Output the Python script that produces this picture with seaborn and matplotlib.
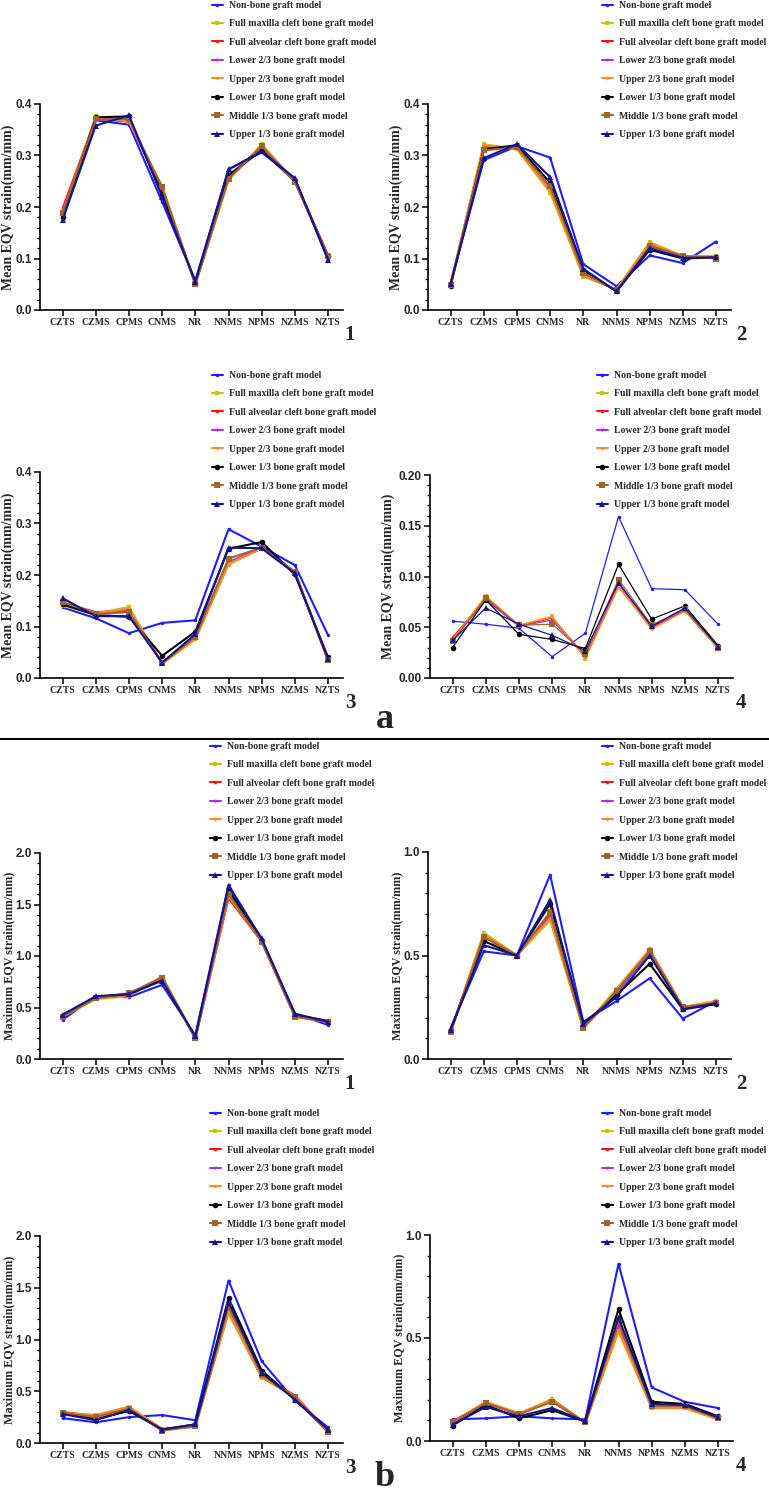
import numpy as np
import pandas as pd
import matplotlib
matplotlib.use("Agg")
import matplotlib.pyplot as plt
import seaborn as sns
from matplotlib.ticker import MultipleLocator
from matplotlib.lines import Line2D

# measurement sites (x axis)
sites = ["CZTS", "CZMS", "CPMS", "CNMS", "NR", "NNMS", "NPMS", "NZMS", "NZTS"]

models = ["Non-bone graft model",
          "Full maxilla cleft bone graft model",
          "Full alveolar cleft bone graft model",
          "Lower 2/3 bone graft model",
          "Upper 2/3 bone graft model",
          "Lower 1/3 bone graft model",
          "Middle 1/3 bone graft model",
          "Upper 1/3 bone graft model"]

colors = ["#1f1ff5", "#c4c400", "#ff1010", "#b02ee0", "#ff8a2a", "#000000", "#a0652c", "#14148c"]
markers = ["o", "s", "^", "v", "D", "o", "s", "^"]
msizes = [2.5, 3, 2.5, 2.5, 2, 4, 4, 4]

# a: mean EQV strain (mm/mm)
mean_1 = {
    models[0]: [0.178, 0.368, 0.360, 0.210, 0.057, 0.273, 0.306, 0.255, 0.097],
    models[1]: [0.185, 0.376, 0.365, 0.240, 0.050, 0.252, 0.322, 0.250, 0.107],
    models[2]: [0.197, 0.372, 0.366, 0.236, 0.051, 0.255, 0.316, 0.252, 0.105],
    models[3]: [0.190, 0.370, 0.367, 0.236, 0.051, 0.256, 0.318, 0.252, 0.105],
    models[4]: [0.188, 0.374, 0.366, 0.240, 0.050, 0.254, 0.319, 0.251, 0.106],
    models[5]: [0.180, 0.374, 0.376, 0.225, 0.053, 0.262, 0.310, 0.250, 0.104],
    models[6]: [0.188, 0.370, 0.371, 0.238, 0.050, 0.255, 0.318, 0.248, 0.105],
    models[7]: [0.175, 0.358, 0.378, 0.220, 0.055, 0.273, 0.308, 0.256, 0.098],
}
mean_2 = {
    models[0]: [0.052, 0.291, 0.318, 0.296, 0.089, 0.046, 0.106, 0.091, 0.133],
    models[1]: [0.050, 0.322, 0.312, 0.228, 0.065, 0.040, 0.132, 0.105, 0.104],
    models[2]: [0.050, 0.318, 0.315, 0.238, 0.070, 0.039, 0.128, 0.103, 0.103],
    models[3]: [0.050, 0.316, 0.314, 0.235, 0.068, 0.039, 0.126, 0.103, 0.103],
    models[4]: [0.050, 0.320, 0.313, 0.232, 0.066, 0.040, 0.130, 0.104, 0.104],
    models[5]: [0.046, 0.312, 0.320, 0.247, 0.077, 0.036, 0.117, 0.100, 0.102],
    models[6]: [0.049, 0.310, 0.316, 0.240, 0.072, 0.038, 0.124, 0.105, 0.100],
    models[7]: [0.051, 0.295, 0.322, 0.258, 0.080, 0.036, 0.120, 0.101, 0.102],
}
mean_3 = {
    models[0]: [0.137, 0.116, 0.087, 0.107, 0.112, 0.289, 0.255, 0.219, 0.083],
    models[1]: [0.140, 0.125, 0.138, 0.027, 0.075, 0.220, 0.252, 0.207, 0.034],
    models[2]: [0.146, 0.128, 0.130, 0.029, 0.077, 0.224, 0.253, 0.206, 0.035],
    models[3]: [0.145, 0.127, 0.132, 0.029, 0.078, 0.225, 0.252, 0.205, 0.035],
    models[4]: [0.144, 0.126, 0.135, 0.028, 0.076, 0.222, 0.251, 0.206, 0.034],
    models[5]: [0.143, 0.122, 0.119, 0.043, 0.090, 0.251, 0.264, 0.201, 0.040],
    models[6]: [0.148, 0.124, 0.128, 0.029, 0.080, 0.232, 0.253, 0.205, 0.035],
    models[7]: [0.155, 0.120, 0.120, 0.030, 0.085, 0.253, 0.252, 0.203, 0.037],
}
mean_4 = {
    models[0]: [0.056, 0.053, 0.049, 0.021, 0.044, 0.159, 0.088, 0.087, 0.053],
    models[1]: [0.038, 0.081, 0.052, 0.061, 0.019, 0.089, 0.049, 0.066, 0.029],
    models[2]: [0.040, 0.078, 0.051, 0.059, 0.022, 0.093, 0.050, 0.067, 0.030],
    models[3]: [0.037, 0.077, 0.051, 0.057, 0.021, 0.092, 0.051, 0.067, 0.030],
    models[4]: [0.038, 0.080, 0.052, 0.060, 0.020, 0.090, 0.048, 0.066, 0.029],
    models[5]: [0.030, 0.077, 0.043, 0.038, 0.029, 0.112, 0.058, 0.071, 0.032],
    models[6]: [0.036, 0.079, 0.052, 0.053, 0.024, 0.097, 0.052, 0.068, 0.030],
    models[7]: [0.037, 0.069, 0.053, 0.042, 0.027, 0.094, 0.051, 0.069, 0.031],
}

# b: maximum EQV strain (mm/mm)
max_1 = {
    models[0]: [0.38, 0.61, 0.60, 0.72, 0.23, 1.69, 1.16, 0.44, 0.33],
    models[1]: [0.41, 0.58, 0.61, 0.80, 0.21, 1.60, 1.15, 0.42, 0.36],
    models[2]: [0.43, 0.59, 0.62, 0.79, 0.20, 1.56, 1.14, 0.42, 0.36],
    models[3]: [0.42, 0.59, 0.63, 0.79, 0.20, 1.58, 1.14, 0.42, 0.36],
    models[4]: [0.42, 0.59, 0.62, 0.80, 0.20, 1.58, 1.14, 0.41, 0.36],
    models[5]: [0.42, 0.60, 0.63, 0.77, 0.21, 1.64, 1.15, 0.43, 0.37],
    models[6]: [0.41, 0.59, 0.64, 0.79, 0.20, 1.60, 1.14, 0.41, 0.36],
    models[7]: [0.43, 0.61, 0.63, 0.76, 0.22, 1.68, 1.17, 0.44, 0.36],
}
max_2 = {
    models[0]: [0.15, 0.52, 0.50, 0.89, 0.18, 0.28, 0.39, 0.195, 0.28],
    models[1]: [0.13, 0.61, 0.50, 0.67, 0.15, 0.34, 0.53, 0.25, 0.28],
    models[2]: [0.13, 0.60, 0.50, 0.70, 0.15, 0.32, 0.52, 0.25, 0.275],
    models[3]: [0.13, 0.59, 0.50, 0.69, 0.15, 0.32, 0.51, 0.25, 0.275],
    models[4]: [0.13, 0.60, 0.50, 0.68, 0.15, 0.33, 0.53, 0.25, 0.28],
    models[5]: [0.14, 0.57, 0.50, 0.75, 0.17, 0.31, 0.46, 0.24, 0.265],
    models[6]: [0.13, 0.59, 0.50, 0.71, 0.15, 0.33, 0.52, 0.25, 0.27],
    models[7]: [0.14, 0.55, 0.50, 0.77, 0.17, 0.30, 0.50, 0.24, 0.27],
}
max_3 = {
    models[0]: [0.24, 0.20, 0.25, 0.27, 0.22, 1.57, 0.79, 0.41, 0.15],
    models[1]: [0.29, 0.27, 0.35, 0.14, 0.16, 1.25, 0.63, 0.44, 0.10],
    models[2]: [0.30, 0.26, 0.34, 0.12, 0.17, 1.29, 0.65, 0.46, 0.11],
    models[3]: [0.29, 0.26, 0.34, 0.13, 0.16, 1.28, 0.64, 0.45, 0.11],
    models[4]: [0.29, 0.27, 0.35, 0.13, 0.16, 1.27, 0.64, 0.45, 0.10],
    models[5]: [0.29, 0.23, 0.31, 0.13, 0.18, 1.40, 0.70, 0.42, 0.12],
    models[6]: [0.29, 0.25, 0.33, 0.12, 0.16, 1.32, 0.66, 0.44, 0.11],
    models[7]: [0.28, 0.22, 0.32, 0.13, 0.18, 1.36, 0.68, 0.42, 0.13],
}
max_4 = {
    models[0]: [0.105, 0.11, 0.12, 0.11, 0.105, 0.86, 0.26, 0.19, 0.16],
    models[1]: [0.09, 0.19, 0.13, 0.205, 0.085, 0.53, 0.16, 0.16, 0.105],
    models[2]: [0.095, 0.185, 0.13, 0.20, 0.09, 0.56, 0.17, 0.165, 0.11],
    models[3]: [0.09, 0.185, 0.13, 0.195, 0.09, 0.55, 0.165, 0.165, 0.11],
    models[4]: [0.09, 0.19, 0.135, 0.20, 0.085, 0.54, 0.16, 0.16, 0.105],
    models[5]: [0.075, 0.175, 0.11, 0.15, 0.095, 0.64, 0.19, 0.18, 0.12],
    models[6]: [0.09, 0.185, 0.13, 0.19, 0.09, 0.58, 0.17, 0.17, 0.11],
    models[7]: [0.08, 0.165, 0.12, 0.16, 0.095, 0.60, 0.18, 0.175, 0.115],
}

sns.set_theme(style="ticks")
plt.rcParams['font.family'] = ['Liberation Serif', 'DejaVu Serif']

W, H = 769, 1495
fig = plt.figure(figsize=(W / 100, H / 100), dpi=100)


def rect(l, t, r, b):
    return [l / W, 1 - b / H, (r - l) / W, (b - t) / H]


def draw_panel(values, box, ymax, ystep, yminor, fmt, ylabel, ylsize, ylpad, leg_xy, num, lw):
    ax = fig.add_axes(rect(*box))
    df = pd.DataFrame([(i, values[m][i], m) for m in models for i in range(len(sites))],
                      columns=["pos", "strain", "model"])
    sns.lineplot(data=df, x="pos", y="strain", hue="model", style="model",
                 hue_order=models, style_order=models,
                 palette=dict(zip(models, colors)), markers=dict(zip(models, markers)),
                 dashes=False, linewidth=lw, markersize=4, markeredgewidth=0,
                 legend=False, ax=ax)
    for line, ms in zip(ax.lines, msizes):
        line.set_markersize(ms)

    ax.set_xlim(-0.68, 8.45)
    ax.set_ylim(0, ymax)
    ax.set_xticks(range(len(sites)))
    ax.set_xticklabels(sites, fontsize=7, fontweight="bold")
    yt = np.arange(0, ymax + ystep / 2, ystep)
    ax.set_yticks(yt)
    ax.set_yticklabels([fmt.format(v) for v in yt], fontfamily="Liberation Sans",
                       fontweight="bold", fontsize=8.5)
    ax.yaxis.set_minor_locator(MultipleLocator(yminor))
    ax.set_xlabel("")
    ax.set_ylabel(ylabel, fontsize=ylsize, fontweight="bold")
    ax.yaxis.set_label_coords(-ylpad / (box[2] - box[0]), 0.5)
    ax.tick_params(axis="both", which="major", length=4, width=1.1, color="black", pad=2)
    ax.tick_params(axis="y", which="minor", length=2, width=0.9, color="black")
    sns.despine(ax=ax)
    for s in ("left", "bottom"):
        ax.spines[s].set_linewidth(1.2)
        ax.spines[s].set_color("black")

    handles = [Line2D([0], [0], color=c, marker=mk, markersize=ms, markeredgewidth=0, lw=1.5)
               for c, mk, ms in zip(colors, markers, msizes)]
    ax.legend(handles, models, loc="upper left",
              bbox_to_anchor=(leg_xy[0] / W, 1 - leg_xy[1] / H),
              bbox_transform=fig.transFigure, frameon=False,
              prop={"family": "Liberation Serif", "weight": "bold", "size": 7},
              handlelength=1.1, handletextpad=0.6, labelspacing=0.97,
              borderpad=0, borderaxespad=0)

    nx = 350 if box[0] < 200 else 741
    fig.text(nx / W, 1 - (box[3] + 25) / H, num, fontsize=15, fontweight="bold",
             ha="center", va="center")
    return ax


mean_lab = "Mean EQV strain(mm/mm)"
max_lab = "Maximum EQV strain(mm/mm)"

draw_panel(mean_1, (40, 104, 343, 310), 0.4, 0.1, 0.02, "{:.1f}", mean_lab, 10, 25, (212, 1), "1", 1.5)
draw_panel(mean_2, (428, 104, 731, 310), 0.4, 0.1, 0.02, "{:.1f}", mean_lab, 10, 25, (602, 1), "2", 1.5)
draw_panel(mean_3, (40, 472, 343, 678), 0.4, 0.1, 0.02, "{:.1f}", mean_lab, 10, 25, (212, 371), "3", 1.5)
draw_panel(mean_4, (430, 475, 733, 678), 0.20, 0.05, 0.01, "{:.2f}", mean_lab, 10, 35, (597, 371), "4", 0.9)
draw_panel(max_1, (40, 853, 343, 1059), 2.0, 0.5, 0.1, "{:.1f}", max_lab, 8.7, 25, (210, 742), "1", 1.5)
draw_panel(max_2, (428, 852, 731, 1059), 1.0, 0.5, 0.1, "{:.1f}", max_lab, 8.7, 25, (602, 742), "2", 1.5)
draw_panel(max_3, (40, 1236, 343, 1443), 2.0, 0.5, 0.1, "{:.1f}", max_lab, 8.7, 25, (210, 1109), "3", 1.5)
draw_panel(max_4, (430, 1235, 733, 1441), 1.0, 0.5, 0.1, "{:.1f}", max_lab, 8.7, 25, (602, 1109), "4", 1.5)

fig.text(385 / W, 1 - 720 / H, "a", fontsize=26, fontweight="bold", ha="center", va="center")
fig.text(385 / W, 1 - 1478 / H, "b", fontsize=26, fontweight="bold", ha="center", va="center")
fig.add_artist(Line2D([0, 1], [1 - 739 / H, 1 - 739 / H], transform=fig.transFigure,
                      color="black", lw=1.5))

fig.savefig("out.png", dpi=100)
